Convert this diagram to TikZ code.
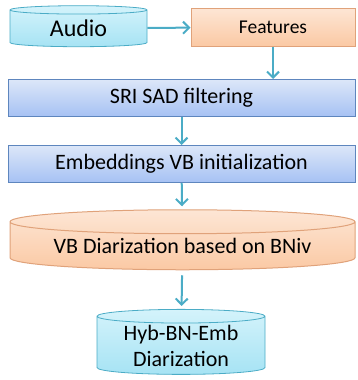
\documentclass[tikz,border=0pt]{standalone}
\usepackage{fontspec}
\setmainfont{Carlito}
\usetikzlibrary{shapes.geometric,arrows.meta}
\definecolor{cyanline}{HTML}{4BACC6}
\definecolor{cyantop}{HTML}{D4F3FB}
\definecolor{cyanbot}{HTML}{A6E3F4}
\definecolor{orangeline}{HTML}{E0A27A}
\definecolor{orangetop}{HTML}{FDE6D5}
\definecolor{orangebot}{HTML}{FBC9A4}
\definecolor{blueline}{HTML}{5E86BE}
\definecolor{bluetop}{HTML}{DCE6F8}
\definecolor{bluebot}{HTML}{A6C2F4}
\tikzset{
	stepbox/.style={draw=blueline, line width=1pt, top color=bluetop, bottom color=bluebot,
		minimum width=347pt, minimum height=37pt, inner sep=0pt, font=\fontsize{22}{26}\selectfont},
	featbox/.style={draw=orangeline, line width=1pt, top color=orangetop, bottom color=orangebot,
		minimum width=164pt, minimum height=38pt, inner sep=0pt, font=\fontsize{19.5}{22}\selectfont},
	datacyl/.style={cylinder, shape border rotate=90, draw=cyanline, line width=.8pt,
		top color=cyantop, bottom color=cyanbot, inner sep=0pt},
	vbcyl/.style={cylinder, shape border rotate=90, draw=orangeline, line width=1pt,
		top color=orangetop, bottom color=orangebot, inner sep=0pt},
	flow/.style={draw=cyanline, line width=2pt, -{Straight Barb[length=6pt,width=12pt]}}
}
\begin{document}
\begin{tikzpicture}[x=1pt,y=-1pt]
	\useasboundingbox (0,0) rectangle (358,380);
	\node[datacyl, minimum width=137pt, minimum height=41pt, aspect=.146,
		font=\fontsize{24}{28}\selectfont] (audio) at (78.5,28.5) {Audio};
	\node[featbox] (feat) at (273,27) {Features};
	\node[stepbox] (sad) at (181.5,98) {SRI SAD filtering};
	\node[stepbox] (init) at (181.5,164) {Embeddings VB initialization};
	\node[vbcyl, minimum width=345pt, minimum height=60pt, aspect=.093,
		font=\fontsize{22}{26}\selectfont] (vb) at (182.5,246) {VB Diarization based on BNiv};
	\node[datacyl, minimum width=168pt, minimum height=65pt, aspect=.119, align=center,
		font=\fontsize{22}{26}\selectfont] (hyb) at (181,345.5) {Hyb-BN-Emb\\Diarization};

	\draw[flow] (audio) -- (feat);
	\draw[flow] (feat.south) -- (feat.south |- sad.north);
	\draw[flow] (sad) -- (init);
	\draw[flow, shorten >=3pt] (init) -- (vb);
	\draw[flow, shorten <=5pt, shorten >=3pt] (vb) -- (hyb);
\end{tikzpicture}
\end{document}
